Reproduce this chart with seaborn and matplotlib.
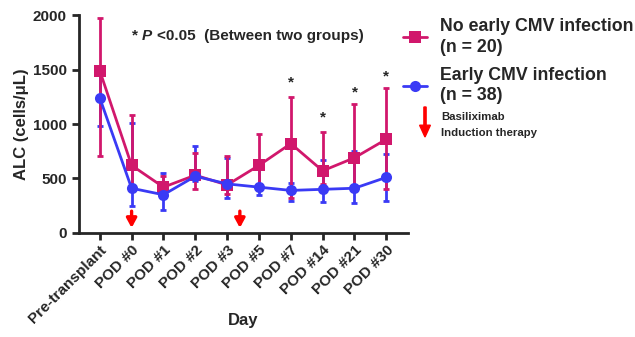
import numpy as np
import pandas as pd
import seaborn as sns
import matplotlib.pyplot as plt
from matplotlib.patches import FancyArrow

days = ['Pre-transplant', 'POD #0', 'POD #1', 'POD #2', 'POD #3',
        'POD #5', 'POD #7', 'POD #14', 'POD #21', 'POD #30']
no_cmv_mean = [1490, 620, 420, 530, 440, 620, 820, 570, 690, 860]
no_cmv_low = [710, 420, 330, 400, 360, 450, 320, 450, 430, 400]
no_cmv_high = [1970, 1080, 520, 730, 710, 910, 1250, 930, 1180, 1330]
cmv_mean = [1240, 410, 350, 520, 450, 420, 390, 400, 410, 510]
cmv_low = [980, 250, 210, 480, 320, 350, 290, 280, 270, 290]
cmv_high = [1490, 1010, 550, 800, 690, 660, 460, 670, 750, 720]
star_days = ['POD #7', 'POD #14', 'POD #21', 'POD #30']
star_y = [1380, 1060, 1290, 1440]
arrow_pos = [1, 4.4]

sns.set_style('ticks')
plt.rcParams['font.family'] = ['Liberation Sans', 'DejaVu Sans']
plt.rcParams['font.weight'] = 'bold'

red = '#D1176C'
blue = '#3A3AF5'

x = np.arange(len(days))
df = pd.concat([
    pd.DataFrame({'x': x, 'ALC': no_cmv_mean, 'group': 'No early CMV infection\n(n = 20)'}),
    pd.DataFrame({'x': x, 'ALC': cmv_mean, 'group': 'Early CMV infection\n(n = 38)'}),
])

fig = plt.figure(figsize=(6.35, 3.37), dpi=100)
ax = fig.add_axes([0.124, 0.309, 0.519, 0.646])

# error bars first so the means sit on top
ax.errorbar(x, cmv_mean, yerr=[np.subtract(cmv_mean, cmv_low), np.subtract(cmv_high, cmv_mean)],
            fmt='none', ecolor=blue, elinewidth=2, capsize=2.5, capthick=2, zorder=2)
ax.errorbar(x, no_cmv_mean, yerr=[np.subtract(no_cmv_mean, no_cmv_low), np.subtract(no_cmv_high, no_cmv_mean)],
            fmt='none', ecolor=red, elinewidth=2, capsize=2.5, capthick=2, zorder=3)

sns.lineplot(data=df, x='x', y='ALC', hue='group', style='group',
             palette=[red, blue], markers=['s', 'o'], dashes=False,
             markersize=8, markeredgewidth=0, linewidth=2, ax=ax, zorder=4)

for d, s in zip(star_days, star_y):
    ax.text(days.index(d), s, '*', ha='center', va='center', fontsize=11, fontweight='bold')

for p in arrow_pos:
    ax.annotate('', xy=(p, 20), xytext=(p, 225),
                arrowprops=dict(arrowstyle='-|>,head_width=0.3,head_length=0.55',
                                color='#FF0000', lw=2.4))

ax.text(1.0, 1810, '* ', fontsize=11, fontweight='bold', va='center')
ax.text(1.32, 1810, 'P', fontsize=11, fontweight='bold', fontstyle='italic', va='center')
ax.text(1.8, 1810, '<0.05  (Between two groups)', fontsize=11, fontweight='bold', va='center')

ax.set_xlim(-0.66, 9.69)
ax.set_ylim(0, 2000)
ax.set_yticks([0, 500, 1000, 1500, 2000])
ax.set_xticks(x)
ax.set_xticklabels(days, rotation=45, ha='right', rotation_mode='anchor')
ax.tick_params(axis='both', labelsize=11, width=2, length=5)
ax.tick_params(axis='x', pad=2)
for lab in ax.get_xticklabels() + ax.get_yticklabels():
    lab.set_fontweight('bold')
ax.set_xlabel('Day', fontsize=12, fontweight='bold')
ax.xaxis.set_label_coords(0.5, -0.37)
ax.set_ylabel('ALC (cells/\u03bcL)', fontsize=12, fontweight='bold', labelpad=3)
for sp in ['left', 'bottom']:
    ax.spines[sp].set_linewidth(2)
sns.despine(ax=ax)

leg = ax.legend(loc='upper left', bbox_to_anchor=(403 / 635, 1 - 18 / 337),
                bbox_transform=fig.transFigure, frameon=False, borderpad=0,
                borderaxespad=0, fontsize=12.8, handlelength=1.35, labelspacing=0.6,
                handletextpad=0.75)
for t in leg.get_texts():
    t.set_fontweight('bold')
    t.set_linespacing(1.3)

fig.patches.append(FancyArrow(
    425 / 635, 1 - 107 / 337, 0, -30 / 337, width=0.0035, head_width=0.017,
    head_length=0.035, length_includes_head=True, color='#FF0000', transform=fig.transFigure))
fig.text(441 / 635, 1 - 117 / 337, 'Basiliximab', fontsize=8.2, fontweight='bold', va='center')
fig.text(441 / 635, 1 - 133 / 337, 'Induction therapy', fontsize=8.2, fontweight='bold', va='center')

fig.savefig('out.png', dpi=100)
